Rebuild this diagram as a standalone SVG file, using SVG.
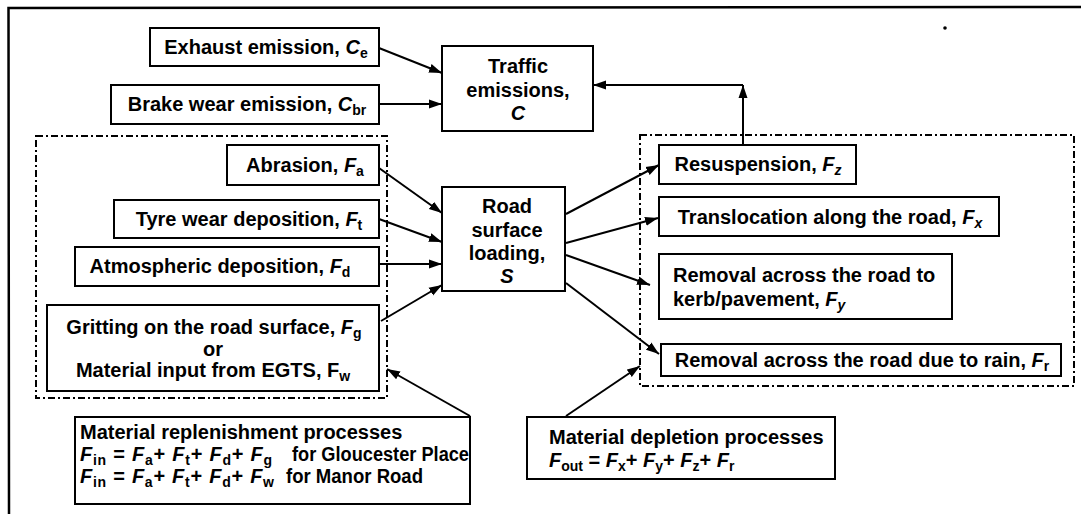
<svg xmlns="http://www.w3.org/2000/svg" width="1081" height="514" viewBox="0 0 1081 514">
  <style>
    .box { fill: #fff; stroke: #000; stroke-width: 2; }
    .grp { fill: none; stroke: #000; stroke-width: 2; stroke-dasharray: 7 3 2 3; }
    .frame { fill: none; stroke: #000; stroke-width: 2.5; }
    .t { font-family: "Liberation Sans", Arial, Helvetica, sans-serif; font-weight: bold; font-size: 20px; fill: #000; }
    .c { text-anchor: middle; }
    .i { font-style: italic; }
    .s { font-size: 14px; }
    .conn line { fill: none; stroke: #000; stroke-width: 2; marker-end: url(#arrow); }
  </style>
  <defs>
    <marker id="arrow" markerUnits="userSpaceOnUse" markerWidth="14" markerHeight="10" refX="13" refY="5" orient="auto">
      <path d="M0,0.5 L13,5 L0,9.5 Z" fill="#000"/>
    </marker>
  </defs>
  <rect width="1081" height="514" fill="#fff"/>

  <!-- outer frame (top and left edges) -->
  <path class="frame" d="M9,514 L8.5,8 L1081,7"/>
  <circle cx="945" cy="28" r="1.8" fill="#000"/>

  <!-- dash-dot groupings -->
  <rect id="replenishment-group" class="grp" x="36" y="136" width="351" height="262"/>
  <rect id="depletion-group" class="grp" x="640" y="135" width="434" height="251"/>

  <g class="conn">
    <line x1="379" y1="48" x2="442" y2="73"/>
    <line x1="379" y1="104" x2="442" y2="104"/>
    <line x1="743" y1="145" x2="743" y2="85"/>
    <line x1="743" y1="85" x2="593" y2="85"/>
    <line x1="379" y1="168" x2="442" y2="213"/>
    <line x1="379" y1="219" x2="442" y2="242"/>
    <line x1="379" y1="264" x2="442" y2="264"/>
    <line x1="381" y1="321" x2="442" y2="285"/>
    <line x1="566" y1="214" x2="659" y2="165"/>
    <line x1="566" y1="243" x2="658" y2="218"/>
    <line x1="566" y1="255" x2="650" y2="285"/>
    <line x1="566" y1="283" x2="659" y2="354"/>
    <line x1="470" y1="416" x2="387" y2="369"/>
    <line x1="566" y1="416" x2="640" y2="366"/>
  </g>

  <g id="exhaust">
    <rect class="box" x="150" y="28" width="229" height="38"/>
    <text class="t c" x="266" y="54">Exhaust emission, <tspan class="i">C</tspan><tspan class="s" dy="4">e</tspan></text>
  </g>
  <g id="brake">
    <rect class="box" x="111" y="85" width="268" height="39"/>
    <text class="t c" x="247" y="111">Brake wear emission, <tspan class="i">C</tspan><tspan class="s" dy="4">br</tspan></text>
  </g>
  <g id="traffic">
    <rect class="box" x="442" y="46" width="151" height="85"/>
    <text class="t c" x="518" y="73">Traffic</text>
    <text class="t c" x="518" y="97">emissions,</text>
    <text class="t c i" x="518" y="120">C</text>
  </g>
  <g id="abrasion">
    <rect class="box" x="227" y="145" width="152" height="40"/>
    <text class="t c" x="305" y="172">Abrasion, <tspan class="i">F</tspan><tspan class="s" dy="4">a</tspan></text>
  </g>
  <g id="tyre">
    <rect class="box" x="114" y="200" width="265" height="38"/>
    <text class="t c" x="249" y="226">Tyre wear deposition, <tspan class="i">F</tspan><tspan class="s" dy="4">t</tspan></text>
  </g>
  <g id="atmospheric">
    <rect class="box" x="75" y="247" width="304" height="39"/>
    <text class="t c" x="220" y="273">Atmospheric deposition, <tspan class="i">F</tspan><tspan class="s" dy="4">d</tspan></text>
  </g>
  <g id="gritting">
    <rect class="box" x="47" y="305" width="332" height="86"/>
    <text class="t c" x="214" y="334">Gritting on the road surface, <tspan class="i">F</tspan><tspan class="s" dy="4">g</tspan></text>
    <text class="t c" x="213" y="355.5">or</text>
    <text class="t c" x="213" y="377">Material input from EGTS, F<tspan class="s" dy="4">w</tspan></text>
  </g>
  <g id="road">
    <rect class="box" x="442" y="187" width="123" height="104"/>
    <text class="t c" x="507" y="213">Road</text>
    <text class="t c" x="507" y="237">surface</text>
    <text class="t c" x="507" y="260">loading,</text>
    <text class="t c i" x="507" y="283">S</text>
  </g>
  <g id="resuspension">
    <rect class="box" x="659" y="145" width="197" height="39"/>
    <text class="t c" x="758" y="171">Resuspension, <tspan class="i">F</tspan><tspan class="s i" dy="4">z</tspan></text>
  </g>
  <g id="translocation">
    <rect class="box" x="659" y="197" width="340" height="39"/>
    <text class="t c" x="830" y="224">Translocation along the road, <tspan class="i">F</tspan><tspan class="s i" dy="4">x</tspan></text>
  </g>
  <g id="kerb">
    <rect class="box" x="659" y="254" width="293" height="65"/>
    <text class="t" x="673" y="282">Removal across the road to</text>
    <text class="t" x="673" y="306">kerb/pavement, <tspan class="i">F</tspan><tspan class="s i" dy="4">y</tspan></text>
  </g>
  <g id="rain">
    <rect class="box" x="661" y="344" width="400" height="32"/>
    <text class="t c" x="862" y="367">Removal across the road due to rain, <tspan class="i">F</tspan><tspan class="s" dy="4">r</tspan></text>
  </g>
  <g id="replenishment">
    <rect class="box" x="75" y="417" width="395" height="87"/>
    <text class="t" x="80" y="439">Material replenishment processes</text>
    <text class="t" x="80" y="461" textLength="192" lengthAdjust="spacing"><tspan class="i">F</tspan><tspan class="s" dy="4">in</tspan><tspan dy="-4"> = </tspan><tspan class="i">F</tspan><tspan class="s" dy="4">a</tspan><tspan dy="-4">+ </tspan><tspan class="i">F</tspan><tspan class="s" dy="4">t</tspan><tspan dy="-4">+ </tspan><tspan class="i">F</tspan><tspan class="s" dy="4">d</tspan><tspan dy="-4">+ </tspan><tspan class="i">F</tspan><tspan class="s" dy="4">g</tspan></text>
    <text class="t" x="292" y="461" textLength="177" lengthAdjust="spacingAndGlyphs">for Gloucester Place</text>
    <text class="t" x="80" y="483" textLength="194" lengthAdjust="spacing"><tspan class="i">F</tspan><tspan class="s" dy="4">in</tspan><tspan dy="-4"> = </tspan><tspan class="i">F</tspan><tspan class="s" dy="4">a</tspan><tspan dy="-4">+ </tspan><tspan class="i">F</tspan><tspan class="s" dy="4">t</tspan><tspan dy="-4">+ </tspan><tspan class="i">F</tspan><tspan class="s" dy="4">d</tspan><tspan dy="-4">+ </tspan><tspan class="i">F</tspan><tspan class="s" dy="4">w</tspan></text>
    <text class="t" x="286" y="483" textLength="137" lengthAdjust="spacingAndGlyphs">for Manor Road</text>
  </g>
  <g id="depletion">
    <rect class="box" x="527" y="417" width="308" height="62"/>
    <text class="t" x="549" y="444">Material depletion processes</text>
    <text class="t" x="549" y="467"><tspan class="i">F</tspan><tspan class="s" dy="4">out</tspan><tspan dy="-4"> = </tspan><tspan class="i">F</tspan><tspan class="s" dy="4">x</tspan><tspan dy="-4">+ </tspan><tspan class="i">F</tspan><tspan class="s" dy="4">y</tspan><tspan dy="-4">+ </tspan><tspan class="i">F</tspan><tspan class="s" dy="4">z</tspan><tspan dy="-4">+ </tspan><tspan class="i">F</tspan><tspan class="s" dy="4">r</tspan></text>
  </g>
</svg>
